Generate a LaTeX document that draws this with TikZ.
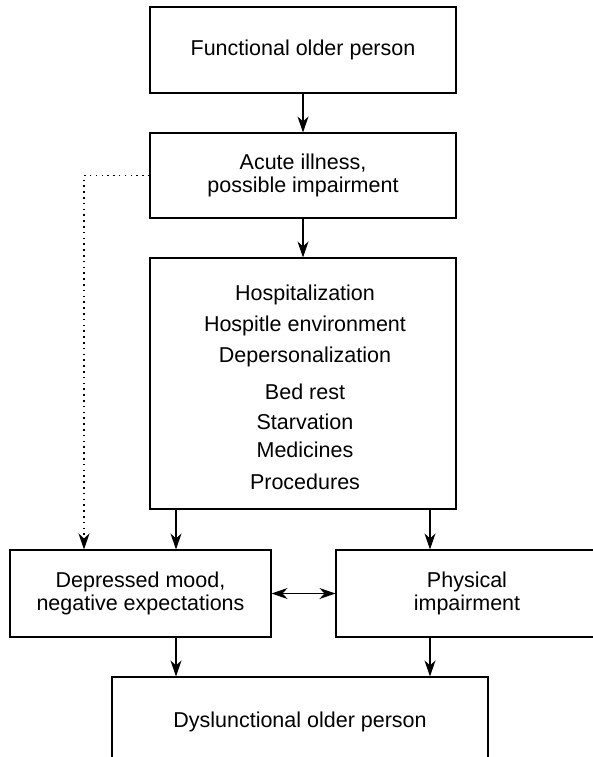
\documentclass[tikz,border=0pt]{standalone}
\usepackage{fontspec}
\setmainfont{Liberation Sans}
\usetikzlibrary{arrows.meta}
\begin{document}
\begin{tikzpicture}[x=1pt,y=-1pt,
  lbl/.style={font=\fontsize{21.5}{23.5}\selectfont},
  box/.style={draw, line width=1.1pt, inner sep=0pt, align=center, lbl},
  txt/.style={inner sep=0pt, lbl},
  flow/.style={line width=1.1pt, -{Stealth[length=16pt,width=11pt,inset=5pt]}},
  biflow/.style={line width=1.1pt, {Stealth[length=16pt,width=11pt,inset=5pt]}-{Stealth[length=16pt,width=11pt,inset=5pt]}},
  dotflow/.style={line width=1.2pt, dash pattern=on 1.5pt off 4.3pt, -{Stealth[length=16pt,width=11pt,inset=5pt]}}
]
\clip (0,0) rectangle (593,757);
\useasboundingbox (0,0) rectangle (593,757);

% main column
\node[box, minimum width=306pt, minimum height=86pt] (func) at (303,50) {Functional older person};
\node[box, minimum width=306pt, minimum height=85pt] (acute) at (303,175.5) {Acute illness,\\possible impairment};
\node[box, minimum width=306pt, minimum height=251pt] (hosp) at (303,383.5) {};

% list of hospital factors
\node[txt] (h1) at (305,295) {Hospitalization};
\node[txt] (h2) at (305,326) {Hospitle environment};
\node[txt] (h3) at (305,357) {Depersonalization};
\node[txt] (h4) at (305,392) {Bed rest};
\node[txt] (h5) at (305,422) {Starvation};
\node[txt] (h6) at (305,450) {Medicines};
\node[txt] (h7) at (305,482) {Procedures};

% consequences
\node[box, minimum width=261pt, minimum height=87pt] (dep) at (140.5,593.5) {Depressed mood,\\negative expectations};
\node[box, minimum width=262pt, minimum height=87pt] (phys) at (467,593.5) {Physical\\impairment};
\node[box, minimum width=376pt, minimum height=90pt] (dys) at (300,722) {Dyslunctional older person};

% connector columns
\coordinate (xl) at (176,0);
\coordinate (xr) at (430,0);
\coordinate (xd) at (84,0);

\draw[flow] (func) -- (acute);
\draw[flow] (acute) -- (hosp);
\draw[flow] (hosp.south -| xl) -- (dep.north -| xl);
\draw[flow] (hosp.south -| xr) -- (phys.north -| xr);
\draw[flow] (dep.south -| xl) -- (dys.north -| xl);
\draw[flow] (phys.south -| xr) -- (dys.north -| xr);
\draw[biflow] (dep.east) -- (phys.west);
\draw[dotflow] (acute.west) -| (dep.north -| xd);
\end{tikzpicture}
\end{document}
